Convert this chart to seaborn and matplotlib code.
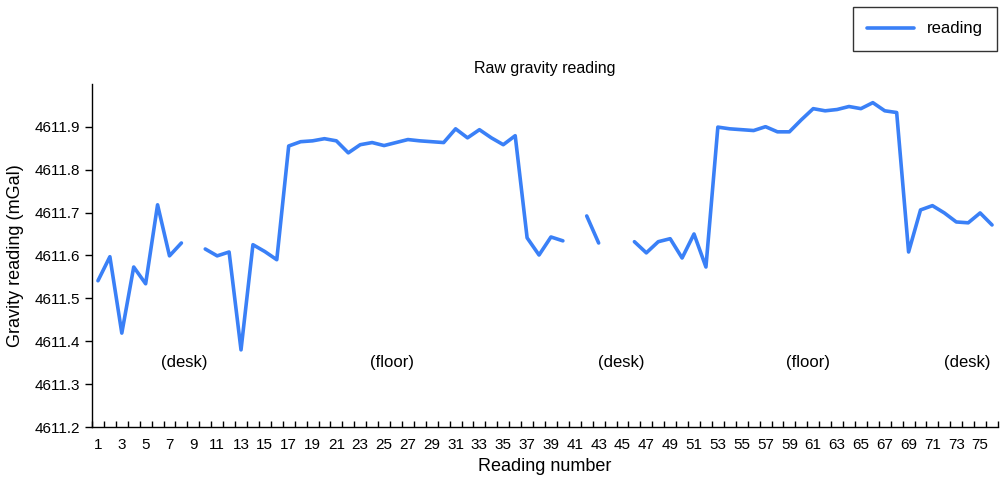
import numpy as np
import pandas as pd
import seaborn as sns
import matplotlib.pyplot as plt
from matplotlib.lines import Line2D
from matplotlib.ticker import FixedLocator

# Lecturas (NaN = sin lectura)
reading_number = list(range(1, 77))
gravity = [
    4611.541, 4611.597, 4611.419, 4611.573, 4611.534, 4611.718, 4611.599, 4611.629, np.nan, 4611.615,
    4611.599, 4611.608, 4611.380, 4611.625, 4611.609, 4611.590, 4611.855, 4611.865, 4611.867, 4611.872,
    4611.867, 4611.839, 4611.858, 4611.863, 4611.856, 4611.863, 4611.870, 4611.867, 4611.865, 4611.863,
    4611.895, 4611.874, 4611.893, 4611.874, 4611.858, 4611.879, 4611.641, 4611.601, 4611.643, 4611.634,
    np.nan, 4611.692, 4611.629, np.nan, np.nan, 4611.632, 4611.606, 4611.632, 4611.639, 4611.594,
    4611.650, 4611.573, 4611.899, 4611.895, 4611.893, 4611.891, 4611.900, 4611.888, 4611.888, 4611.916,
    4611.942, 4611.937, 4611.940, 4611.947, 4611.942, 4611.956, 4611.937, 4611.933, 4611.608, 4611.706,
    4611.716, 4611.699, 4611.678, 4611.676, 4611.699, 4611.671,
]
surface_labels = ['(desk)', '(floor)', '(desk)', '(floor)', '(desk)']
surface_x = [8.2, 25.7, 44.9, 60.6, 73.9]
surface_y = 4611.35

color = '#3a80f7'

df = pd.DataFrame({'n': reading_number, 'g': gravity})
df['tramo'] = df['g'].isna().cumsum()
df = df.dropna()

sns.set_style('white')
plt.rcParams['font.family'] = ['Liberation Sans', 'DejaVu Sans']
plt.rcParams['text.color'] = 'black'
plt.rcParams['axes.labelcolor'] = 'black'
plt.rcParams['xtick.color'] = 'black'
plt.rcParams['ytick.color'] = 'black'

fig = plt.figure(figsize=(10, 4.87), dpi=100)
ax = fig.add_axes([0.092, 0.123, 0.906, 0.705])

sns.lineplot(data=df, x='n', y='g', units='tramo', estimator=None,
             color=color, linewidth=2.6, ax=ax, legend=False)

for lab, xx in zip(surface_labels, surface_x):
    ax.text(xx, surface_y, lab, ha='center', va='center', fontsize=12)

ax.set_xlim(0.5, 76.5)
ax.set_ylim(4611.2, 4612.0)
ax.set_yticks(np.arange(4611.2, 4611.95, 0.1))
ax.set_yticklabels([f'{v:.1f}' for v in np.arange(4611.2, 4611.95, 0.1)])
ax.set_xticks(reading_number[::2])
ax.xaxis.set_minor_locator(FixedLocator(np.arange(0.5, 77, 1)))
ax.tick_params(axis='x', which='major', length=0, labelsize=11, pad=8)
ax.tick_params(axis='x', which='minor', direction='in', length=4, width=1, color='black')
ax.tick_params(axis='y', direction='out', length=5, width=1, color='black', labelsize=11)
ax.tick_params(left=True, bottom=True, which='both')

for s in ['top', 'right']:
    ax.spines[s].set_visible(False)
for s in ['left', 'bottom']:
    ax.spines[s].set_color('black')
    ax.spines[s].set_linewidth(1)

ax.set_xlabel('Reading number', fontsize=13, labelpad=4)
ax.set_ylabel('Gravity reading (mGal)', fontsize=13, labelpad=8)
ax.set_title('Raw gravity reading', fontsize=11.5, pad=8)

handle = Line2D([], [], color=color, linewidth=2.6)
leg = fig.legend([handle], ['reading'], loc='upper right', bbox_to_anchor=(0.997, 0.985),
                 fontsize=12, frameon=True, fancybox=False, handlelength=2.8,
                 borderpad=0.85, borderaxespad=0)
leg.get_frame().set_edgecolor('black')
leg.get_frame().set_linewidth(1)

fig.savefig('out.png', dpi=100)
